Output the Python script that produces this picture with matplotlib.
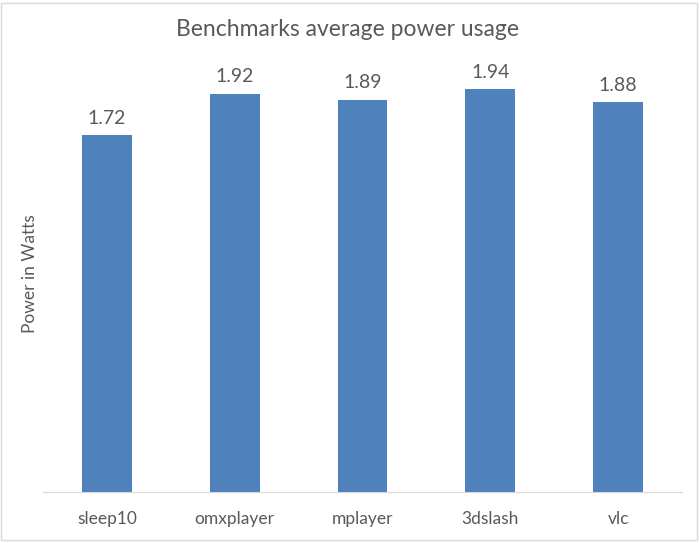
import matplotlib.pyplot as plt
from matplotlib.patches import Rectangle

benchmarks = ["sleep10", "omxplayer", "mplayer", "3dslash", "vlc"]
power_watts = [1.72, 1.92, 1.89, 1.94, 1.88]

plt.rcParams['font.family'] = ['Lato', 'DejaVu Sans']
text_color = '#595959'

fig = plt.figure(figsize=(6.99, 5.43), dpi=100)
ax = fig.add_axes([43 / 699, 51 / 543, 639 / 699, 415 / 543])

x = range(len(benchmarks))
bars = ax.bar(x, power_watts, width=0.39, color='#4F81BD')
ax.bar_label(bars, labels=[f"{v:.2f}" for v in power_watts], padding=6,
             fontsize=14, color=text_color)

ax.set_xlim(-0.5, len(benchmarks) - 0.5)
ax.set_ylim(0, 2.0)
ax.set_xticks(list(x))
ax.set_xticklabels(benchmarks, fontsize=12.5, color=text_color)
ax.tick_params(axis='x', length=0, pad=14)
ax.set_yticks([])

for side in ['top', 'right', 'left']:
    ax.spines[side].set_visible(False)
ax.spines['bottom'].set_color('#D9D9D9')

fig.text(30 / 699, 1 - 274 / 543, "Power in Watts", rotation=90, ha='center',
         va='center', fontsize=12.5, color=text_color)
fig.text(347 / 699, 1 - 30 / 543, "Benchmarks average power usage", ha='center',
         va='center', fontsize=16.5, color=text_color)

# chart area border
fig.patches.append(Rectangle((0.5 / 699, 3 / 543), 696 / 699, 537 / 543,
                             transform=fig.transFigure, fill=False,
                             edgecolor='#D9D9D9', linewidth=1))

fig.savefig("out.png", dpi=100)
